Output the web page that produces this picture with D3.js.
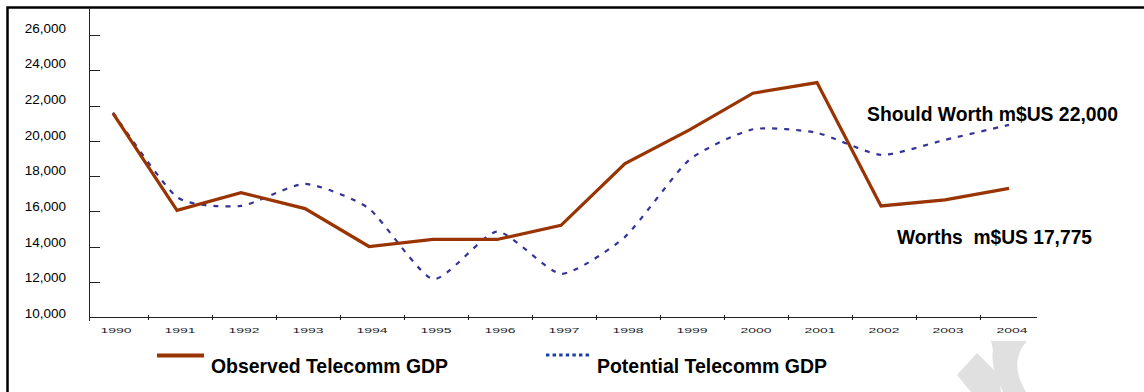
<!DOCTYPE html>
<html>
<head>
<meta charset="utf-8">
<script src="https://cdn.jsdelivr.net/npm/d3@7"></script>
<style>
  body { margin: 0; background: #fff; }
  svg { display: block; font-family: Arial, "Liberation Sans", sans-serif; }
  .pre { white-space: pre; }
</style>
</head>
<body>
<svg width="1144" height="392"></svg>
<script>
var years = ["1990", "1991", "1992", "1993", "1994", "1995", "1996", "1997",
             "1998", "1999", "2000", "2001", "2002", "2003", "2004"];

var observed = [21550, 16050, 17050, 16150, 14000, 14400, 14400, 15200,
                18700, 20600, 22700, 23300, 16300, 16650, 17300];

var potential = [21600, 16800, 16300, 17550, 16150, 12150, 14850, 12450,
                 14550, 18900, 20650, 20450, 19200, 20050, 20900];

var yTicks = [10000, 12000, 14000, 16000, 18000, 20000, 22000, 24000, 26000];

var seriesNames = ["Observed Telecomm GDP", "Potential Telecomm GDP"];
var notes = ["Should Worth m$US 22,000", "Worths  m$US 17,775"];

var svg = d3.select("svg");

// frame (top + left only, the rest is cut off)
svg.append("path")
    .attr("d", "M7.5,392V7.5H1144")
    .attr("fill", "none")
    .attr("stroke", "#000")
    .attr("stroke-width", 2.5);

var x = d3.scaleBand()
    .domain(years)
    .range([81, 1041]);

var y = d3.scaleLinear()
    .domain([10000, 26000])
    .range([317, 35]);

// labels sit a little above their ticks in the original
var yLab = d3.scaleLinear()
    .domain([10000, 26000])
    .range([313, 28]);

function cx(d, i) { return x(years[i]) + x.bandwidth() / 2; }

// y axis
var ya = svg.append("g").attr("class", "axis--y");

ya.append("line")
    .attr("x1", 89.5).attr("x2", 89.5)
    .attr("y1", 9).attr("y2", 321)
    .attr("stroke", "#222");

ya.selectAll(".tick")
  .data(yTicks.slice(1))
  .enter().append("line")
    .attr("x1", 89.5).attr("x2", 100)
    .attr("y1", function(d) { return Math.round(y(d)) + 0.5; })
    .attr("y2", function(d) { return Math.round(y(d)) + 0.5; })
    .attr("stroke", "#222");

ya.selectAll("text")
  .data(yTicks)
  .enter().append("text")
    .attr("x", 66)
    .attr("y", function(d) { return yLab(d); })
    .attr("dy", "0.36em")
    .attr("text-anchor", "end")
    .style("font-size", "13.5px")
    .attr("fill", "#000")
    .text(d3.format(","));

// x axis
var xa = svg.append("g")
    .attr("class", "axis--x")
    .attr("transform", "translate(3,0)");

xa.append("line")
    .attr("x1", 86.5).attr("x2", 1034)
    .attr("y1", 317.5).attr("y2", 317.5)
    .attr("stroke", "#222");

xa.selectAll(".tick")
  .data(years.slice(1))
  .enter().append("line")
    .attr("x1", function(d) { return Math.round(x(d)) + 0.5; })
    .attr("x2", function(d) { return Math.round(x(d)) + 0.5; })
    .attr("y1", 315).attr("y2", 320)
    .attr("stroke", "#222");

xa.selectAll("text")
  .data(years)
  .enter().append("text")
    .attr("x", function(d) { return x(d) + x.bandwidth() / 2; })
    .attr("y", 332.5)
    .attr("text-anchor", "middle")
    .attr("textLength", 31)
    .attr("lengthAdjust", "spacingAndGlyphs")
    .style("font-size", "8px")
    .attr("fill", "#222")
    .text(function(d) { return d; });

// lines
var straight = d3.line()
    .x(cx)
    .y(function(d) { return y(d); });

var smooth = d3.line()
    .x(cx)
    .y(function(d) { return y(d); })
    .curve(d3.curveCardinal.tension(0.4));

svg.append("path")
    .datum(potential)
    .attr("fill", "none")
    .attr("stroke", "#333399")
    .attr("stroke-width", 2.2)
    .attr("stroke-dasharray", "5,7")
    .attr("d", smooth);

svg.append("path")
    .datum(observed)
    .attr("fill", "none")
    .attr("stroke", "#993300")
    .attr("stroke-width", 3.2)
    .attr("stroke-linejoin", "miter")
    .attr("d", straight);

// notes on the right
svg.append("text")
    .attr("x", 867).attr("y", 121)
    .attr("textLength", 251)
    .attr("lengthAdjust", "spacingAndGlyphs")
    .style("font-size", "21px")
    .style("font-weight", "bold")
    .text(notes[0]);

svg.append("text")
    .attr("class", "pre")
    .attr("x", 897).attr("y", 244)
    .attr("textLength", 195)
    .attr("lengthAdjust", "spacingAndGlyphs")
    .style("font-size", "21px")
    .style("font-weight", "bold")
    .text(notes[1]);

// legend
var legend = svg.append("g").attr("class", "legend");

legend.append("line")
    .attr("x1", 157).attr("x2", 204)
    .attr("y1", 355.5).attr("y2", 355.5)
    .attr("stroke", "#993300")
    .attr("stroke-width", 3.8);

legend.append("text")
    .attr("x", 211).attr("y", 372.5)
    .attr("textLength", 237)
    .attr("lengthAdjust", "spacingAndGlyphs")
    .style("font-size", "21px")
    .style("font-weight", "bold")
    .text(seriesNames[0]);

legend.append("line")
    .attr("x1", 546).attr("x2", 589)
    .attr("y1", 355).attr("y2", 355)
    .attr("stroke", "#1a40a0")
    .attr("stroke-width", 3)
    .attr("stroke-dasharray", "3.4,3.2");

legend.append("text")
    .attr("x", 597).attr("y", 372.5)
    .attr("textLength", 230)
    .attr("lengthAdjust", "spacingAndGlyphs")
    .style("font-size", "21px")
    .style("font-weight", "bold")
    .text(seriesNames[1]);

// faint logo mark in the corner
var mark = svg.append("g").attr("fill", "#e0e0e0");
mark.append("path").attr("d", "M957,375L977,353L998,374L1001,392L971,392Z");
mark.append("path").attr("d", "M991,341L1027,341Q1008,362 1026,392L1003,392Q990,368 993,350Z");
</script>
</body>
</html>
